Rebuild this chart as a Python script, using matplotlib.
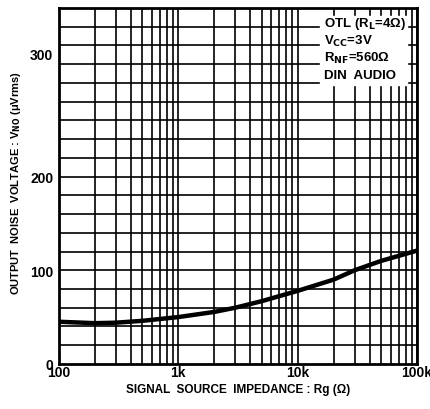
import numpy as np
import matplotlib
matplotlib.use('Agg')
import matplotlib.pyplot as plt
from matplotlib.ticker import LogLocator, FixedLocator, NullFormatter

plt.rcParams['font.family'] = ['Liberation Sans Narrow', 'Liberation Sans', 'DejaVu Sans']
plt.rcParams['font.weight'] = 'bold'
plt.rcParams['axes.labelweight'] = 'bold'
plt.rcParams['mathtext.fontset'] = 'custom'
plt.rcParams['mathtext.rm'] = 'Liberation Sans Narrow:bold'
plt.rcParams['mathtext.default'] = 'rm'

# signal source impedance (ohm) and output noise voltage (uVrms)
rg = [100, 200, 300, 500, 1000, 2000, 3000, 5000, 10000, 20000, 30000, 50000, 100000]
vno = [45, 43.5, 44, 46, 50, 55.5, 60, 67, 78, 90, 100, 110, 121]

x_ticks = [100, 1000, 10000, 100000]
x_labels = ['100', '1k', '10k', '100k']
y_ticks = [0, 100, 200, 331]
y_labels = ['0', '100', '200', '300']

notes = [r'OTL (R$_L$=4Ω)', r'V$_{CC}$=3V', r'R$_{NF}$=560Ω', 'DIN  AUDIO']

fig = plt.figure(figsize=(4.3, 4.1), dpi=100)
ax = fig.add_axes([0.137, 0.110, 0.833, 0.868])

ax.set_xscale('log')
ax.set_xlim(100, 100000)
ax.set_ylim(0, 380)

ax.xaxis.set_major_locator(FixedLocator(x_ticks))
ax.xaxis.set_minor_locator(LogLocator(base=10, subs=np.arange(2, 10)))
ax.xaxis.set_minor_formatter(NullFormatter())
ax.set_xticklabels(x_labels)
ax.yaxis.set_major_locator(FixedLocator(y_ticks))
ax.set_yticklabels(y_labels)

ax.grid(which='both', axis='x', color='black', lw=1.2)
ax.yaxis.grid(False)
for yv in np.arange(20, 380, 20):
    ax.axhline(yv, color='black', lw=1.2, zorder=1)

ax.tick_params(which='both', length=0, labelsize=10)
ax.tick_params(axis='x', pad=1)
ax.tick_params(axis='y', pad=4)
for s in ax.spines.values():
    s.set_linewidth(2)

ax.plot(rg, vno, color='black', lw=3.2, zorder=3, solid_capstyle='butt')

# white notes box in the top right corner
ax.fill_between([15300, 83000], 298, 372, color='white', zorder=2)
for i, t in enumerate(notes):
    ax.text(16500, 364 - i * 18.5, t, fontsize=9.5, va='center', ha='left', zorder=4)

ax.set_xlabel('SIGNAL  SOURCE  IMPEDANCE : Rg (Ω)', fontsize=8.5, labelpad=3)
ax.set_ylabel('OUTPUT  NOISE  VOLTAGE : V$_{NO}$ (μVrms)', fontsize=8)
ax.yaxis.set_label_coords(-0.10, 0.51)

fig.savefig('out.png', dpi=100)
